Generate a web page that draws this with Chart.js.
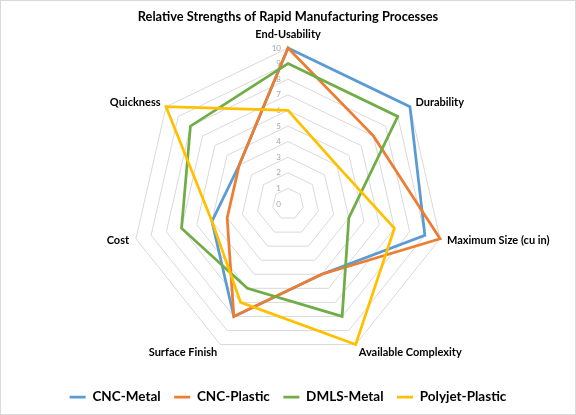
<!DOCTYPE html>
<html>
<head>
<meta charset="utf-8">
<script src="https://cdn.jsdelivr.net/npm/chart.js@4/dist/chart.umd.min.js"></script>
<style>
  html, body { margin: 0; padding: 0; background: #fff; }
  #wrap { position: relative; width: 576px; height: 415px; box-sizing: border-box; border: 1px solid #D9D9D9; }
</style>
</head>
<body>
<div id="wrap"><canvas id="strengthChart"></canvas></div>
<script>
const categories = ['End-Usability', 'Durability', 'Maximum Size (cu in)', 'Available Complexity', 'Surface Finish', 'Cost', 'Quickness'];
const seriesNames = ['CNC-Metal', 'CNC-Plastic', 'DMLS-Metal', 'Polyjet-Plastic'];
const cncMetal = [10, 10, 9, 5, 8, 5, 4];
const cncPlastic = [10, 7, 10, 5, 8, 4, 4];
const dmlsMetal = [9, 9, 4, 8, 6, 7, 8];
const polyjetPlastic = [6, 4, 7, 10, 7, 5, 10];
const tickValues = [0, 1, 2, 3, 4, 5, 6, 7, 8, 9, 10];
const seriesColors = ['#5B9BD5', '#ED7D31', '#70AD47', '#FFC000'];

Chart.defaults.font.family = "Lato, 'Open Sans', sans-serif";

// tick numbers sit left of the top axis, category names just outside the outer ring
const radarText = {
    id: 'radarText',
    beforeDatasetsDraw(chart) {
        const r = chart.scales.r;
        const ctx = chart.ctx;
        ctx.save();
        ctx.font = '8px Lato';
        ctx.fillStyle = '#A6A6A6';
        ctx.textAlign = 'right';
        ctx.textBaseline = 'middle';
        r.ticks.forEach((t) => {
            ctx.fillText(String(t.value), r.xCenter - 7, r.yCenter - r.getDistanceFromCenterForValue(t.value));
        });

        ctx.font = 'bold 11px Lato';
        ctx.fillStyle = '#000';
        categories.forEach((label, i) => {
            const a = r.getIndexAngle(i);
            const p = r.getPointPosition(i, r.drawingArea + 7);
            const s = Math.sin(a), c = Math.cos(a);
            ctx.textAlign = Math.abs(s) < 0.01 ? 'center' : (s > 0 ? 'left' : 'right');
            const dy = c > 0.9 ? -7 : (c < -0.5 ? 2 : 0);
            ctx.fillText(label, p.x, p.y + dy);
        });
        ctx.restore();
    }
};

const seriesValues = [cncMetal, cncPlastic, dmlsMetal, polyjetPlastic];

new Chart(document.getElementById('strengthChart'), {
    type: 'radar',
    data: {
        labels: categories,
        datasets: seriesNames.map((name, i) => ({
            label: name,
            data: seriesValues[i],
            borderColor: seriesColors[i],
            backgroundColor: seriesColors[i],
            borderWidth: 2.75,
            fill: false,
            pointRadius: 0,
            pointHoverRadius: 0,
            order: seriesNames.length - i
        }))
    },
    options: {
        responsive: true,
        maintainAspectRatio: false,
        animation: false,
        events: [],
        layout: { padding: { top: 0, bottom: 0.25, left: 0, right: 0 } },
        scales: {
            r: {
                min: 0,
                max: 10,
                afterBuildTicks: (s) => { s.ticks = tickValues.map((v) => ({ value: v })); },
                ticks: { display: false },
                grid: { color: '#D9D9D9', lineWidth: 1 },
                angleLines: { display: false },
                pointLabels: { display: false }
            }
        },
        plugins: {
            title: {
                display: true,
                text: 'Relative Strengths of Rapid Manufacturing Processes',
                color: '#000',
                font: { size: 12.8, weight: 'bold' },
                padding: { top: 8.3, bottom: 23.3 }
            },
            legend: {
                position: 'bottom',
                title: { display: true, text: ' ', font: { size: 1 }, padding: { top: 15.5, bottom: 0 } },
                labels: {
                    usePointStyle: true,
                    pointStyle: 'line',
                    pointStyleWidth: 16,
                    padding: 13.5,
                    color: '#000',
                    font: { size: 13.5, weight: 'bold' },
                    sort: (a, b) => a.datasetIndex - b.datasetIndex
                }
            },
            tooltip: { enabled: false }
        }
    },
    plugins: [radarText]
});
</script>
</body>
</html>
